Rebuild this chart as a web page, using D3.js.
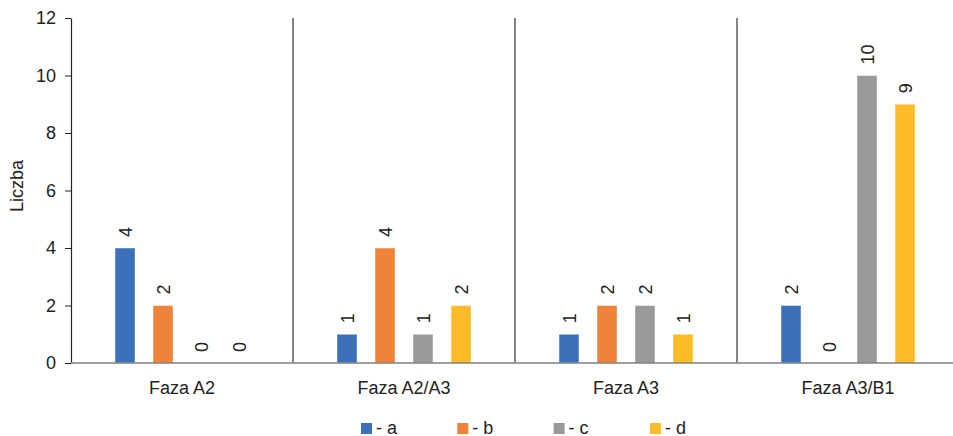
<!DOCTYPE html>
<html>
<head>
<meta charset="utf-8">
<script src="https://cdn.jsdelivr.net/npm/d3@7"></script>
<style>
  body { margin: 0; background: #fff; }
  svg { font-family: "Liberation Sans", Arial, sans-serif; }
</style>
</head>
<body>
<svg class="chart-svg"></svg>
<script>
// data
const categories = ["Faza A2", "Faza A2/A3", "Faza A3", "Faza A3/B1"];
const series = ["a", "b", "c", "d"];
const values_a = [4, 1, 1, 2];
const values_b = [2, 4, 2, 0];
const values_c = [0, 1, 2, 10];
const values_d = [0, 2, 1, 9];
const yTicks = [0, 2, 4, 6, 8, 10, 12];
const colors = ["#3c71ba", "#f0833a", "#989a9a", "#fcbc29"];

const all_values = [values_a, values_b, values_c, values_d];
const data = categories.map((c, i) => ({
  category: c,
  bars: series.map((s, j) => ({ key: s, value: all_values[j][i] }))
}));

const fontSize = 18;
const width = 953, height = 436;
const margin = { top: 18, right: -6, bottom: 73, left: 71 };
const innerW = width - margin.left - margin.right;
const innerH = height - margin.top - margin.bottom;

const svg = d3.select('.chart-svg')
  .attr('width', width)
  .attr('height', height);

const g = svg.append('g')
  .attr('transform', `translate(${margin.left},${margin.top})`);

const x0 = d3.scaleBand()
  .domain(categories)
  .range([0, innerW])
  .padding(0);

// 4 bars, 20px wide, 38px pitch inside each group
const x1 = d3.scaleBand()
  .domain(series)
  .range([0, x0.bandwidth()])
  .paddingInner(18 / 38)
  .paddingOuter((x0.bandwidth() / 38 - 4 + 18 / 38) / 2);

const y = d3.scaleLinear()
  .domain([0, 12])
  .range([innerH, 0]);

// y axis
const yAxis = g.append('g')
  .attr('class', 'axis axis-y')
  .call(d3.axisLeft(y).tickValues(yTicks).tickSize(6).tickPadding(9).tickSizeOuter(0));
yAxis.select('.domain').attr('stroke', '#222').attr('stroke-width', 1.2);
yAxis.selectAll('.tick line').attr('stroke', '#222');
yAxis.selectAll('text')
  .attr('font-size', fontSize)
  .attr('fill', '#222')
  .attr('font-family', '"Liberation Sans", Arial, sans-serif');

// dividers between groups
g.selectAll('.divider')
  .data(categories.slice(1))
  .enter()
  .append('line')
  .attr('class', 'divider')
  .attr('x1', d => x0(d))
  .attr('x2', d => x0(d))
  .attr('y1', 0)
  .attr('y2', innerH)
  .attr('stroke', '#333')
  .attr('stroke-width', 1.2);

// bars
const groups = g.selectAll('.group')
  .data(data)
  .enter()
  .append('g')
  .attr('class', 'group')
  .attr('transform', d => `translate(${x0(d.category)},0)`);

groups.selectAll('rect')
  .data(d => d.bars)
  .enter()
  .append('rect')
  .attr('x', d => x1(d.key))
  .attr('y', d => y(d.value))
  .attr('width', x1.bandwidth())
  .attr('height', d => innerH - y(d.value))
  .attr('fill', (d, i) => colors[i])
  .attr('stroke', 'rgba(255,255,255,0.45)')
  .attr('stroke-width', 1);

// value labels, rotated
groups.selectAll('.value-label')
  .data(d => d.bars)
  .enter()
  .append('text')
  .attr('class', 'value-label')
  .attr('transform', d => `translate(${x1(d.key) + x1.bandwidth() / 2 + 0.5},${y(d.value) - 11}) rotate(-90)`)
  .attr('dy', '0.35em')
  .attr('text-anchor', 'start')
  .attr('font-size', fontSize)
  .attr('fill', '#222')
  .text(d => d.value);

// x baseline
g.append('line')
  .attr('x1', 0)
  .attr('x2', innerW)
  .attr('y1', innerH)
  .attr('y2', innerH)
  .attr('stroke', '#7f7f7f')
  .attr('stroke-width', 1.5);

// category labels
g.selectAll('.cat-label')
  .data(categories)
  .enter()
  .append('text')
  .attr('class', 'cat-label')
  .attr('x', d => x0(d) + x0.bandwidth() / 2)
  .attr('y', innerH + 31)
  .attr('text-anchor', 'middle')
  .attr('font-size', fontSize)
  .attr('fill', '#222')
  .text(d => d);

// y label
svg.append('text')
  .attr('transform', `translate(23,186) rotate(-90)`)
  .attr('text-anchor', 'middle')
  .attr('font-size', fontSize)
  .attr('fill', '#222')
  .text('Liczba');

// legend
const legend = svg.append('g')
  .attr('transform', 'translate(361,423)');

const legendItems = legend.selectAll('.legend-item')
  .data(series)
  .enter()
  .append('g')
  .attr('class', 'legend-item')
  .attr('transform', (d, i) => `translate(${i * 96.3},0)`);

legendItems.append('rect')
  .attr('width', 11)
  .attr('height', 11)
  .attr('fill', (d, i) => colors[i]);

legendItems.append('text')
  .attr('x', 15)
  .attr('y', 10.5)
  .attr('font-size', fontSize)
  .attr('fill', '#222')
  .text(d => '- ' + d);
</script>
</body>
</html>
